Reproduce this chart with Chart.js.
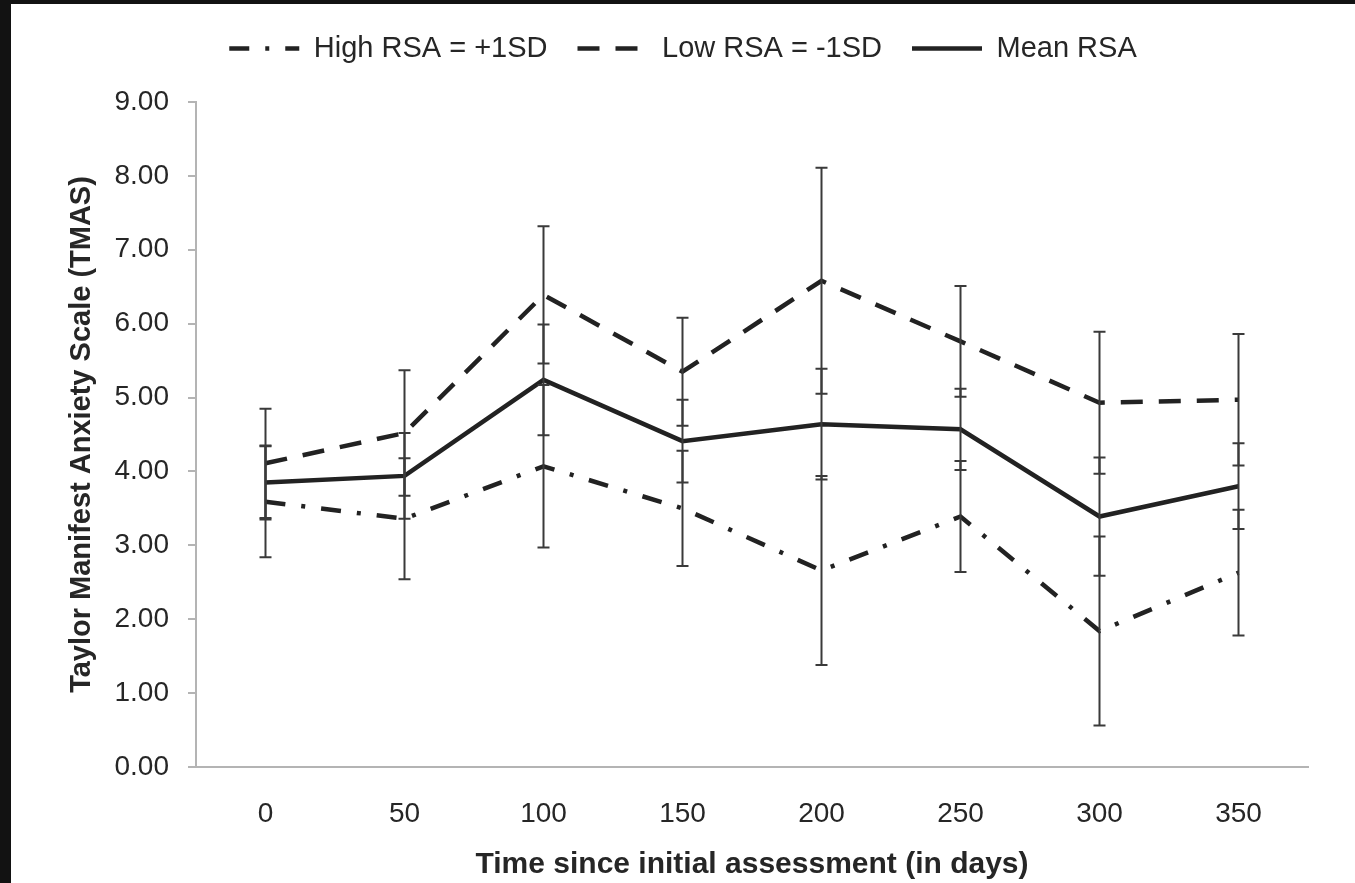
<!DOCTYPE html>
<html>
<head>
<meta charset="utf-8">
<script src="https://cdn.jsdelivr.net/npm/chart.js@4.4.1/dist/chart.umd.min.js"></script>
<style>
    html, body { margin: 0; padding: 0; background: #121212; }
    #wrap { position: absolute; left: 11px; top: 4px; width: 1344px; height: 879px; background: #fff; }
</style>
</head>
<body>
<div id="wrap"><canvas id="tmasChart" width="1344" height="879"></canvas></div>
<script>
// days since first assessment
const days = ['0', '50', '100', '150', '200', '250', '300', '350'];
const yTicks = [0, 1, 2, 3, 4, 5, 6, 7, 8, 9];

// TMAS estimates per RSA group
const highRsa = [3.59, 3.36, 4.07, 3.50, 2.66, 3.39, 1.84, 2.63];
const lowRsa = [4.11, 4.52, 6.39, 5.35, 6.58, 5.76, 4.93, 4.97];
const meanRsa = [3.85, 3.94, 5.24, 4.41, 4.64, 4.57, 3.39, 3.80];

// +/- error for each group
const highErr = [0.75, 0.82, 1.10, 0.78, 1.28, 0.75, 1.28, 0.85];
const lowErr = [0.74, 0.85, 0.93, 0.73, 1.53, 0.75, 0.96, 0.89];
const meanErr = [0.50, 0.58, 0.75, 0.56, 0.75, 0.55, 0.80, 0.58];

const inkColor = '#222222';
const axisColor = '#b4b4b4';
const textColor = '#262626';
const fontFamily = 'Arial, "Liberation Sans", sans-serif';

// vertical error bars with caps, drawn from dataset.errors
const errorBars = {
    id: 'errorBars',
    afterDatasetsDraw(chart) {
        const ctx = chart.ctx;
        const yScale = chart.scales.y;
        ctx.save();
        ctx.strokeStyle = '#3a3a3a';
        ctx.lineWidth = 2;
        ctx.setLineDash([]);
        chart.data.datasets.forEach((ds, i) => {
            const meta = chart.getDatasetMeta(i);
            meta.data.forEach((pt, j) => {
                const v = ds.data[j];
                const e = ds.errors[j];
                const top = yScale.getPixelForValue(v + e);
                const bottom = yScale.getPixelForValue(v - e);
                ctx.beginPath();
                ctx.moveTo(pt.x, top);
                ctx.lineTo(pt.x, bottom);
                ctx.moveTo(pt.x - 6, top);
                ctx.lineTo(pt.x + 6, top);
                ctx.moveTo(pt.x - 6, bottom);
                ctx.lineTo(pt.x + 6, bottom);
                ctx.stroke();
            });
        });
        ctx.restore();
    }
};

function lineSet(label, values, errors, dash) {
    return {
        label: label,
        data: values,
        errors: errors,
        borderColor: inkColor,
        backgroundColor: inkColor,
        borderWidth: 4.5,
        borderDash: dash,
        borderCapStyle: 'butt',
        pointRadius: 0,
        pointHoverRadius: 0,
        tension: 0,
        fill: false
    };
}

// invisible spacer axes to hold the plot area in place
function spacer(position, size) {
    return {
        type: 'linear',
        position: position,
        display: true,
        grid: { display: false },
        border: { display: false },
        ticks: { display: false },
        afterFit: s => {
            if (position === 'top') s.height = size; else s.width = size;
        }
    };
}

const ctx = document.getElementById('tmasChart').getContext('2d');
new Chart(ctx, {
    type: 'line',
    data: {
        labels: days,
        datasets: [
            lineSet('High RSA = +1SD', highRsa, highErr, [20, 16, 4, 16]),
            lineSet('Low RSA = -1SD', lowRsa, lowErr, [22, 16]),
            lineSet('Mean RSA', meanRsa, meanErr, [])
        ]
    },
    options: {
        responsive: false,
        animation: false,
        devicePixelRatio: 1,
        layout: { padding: 0 },
        plugins: {
            legend: {
                position: 'top',
                labels: {
                    usePointStyle: true,
                    pointStyle: 'line',
                    pointStyleWidth: 70,
                    padding: 30,
                    color: textColor,
                    font: { family: fontFamily, size: 29 },
                    // keep each dataset's dash pattern on its legend line
                    generateLabels: chart => Chart.defaults.plugins.legend.labels.generateLabels(chart).map(item => {
                        const ds = chart.data.datasets[item.datasetIndex];
                        item.lineDash = ds.borderDash;
                        item.lineCap = 'butt';
                        return item;
                    })
                }
            },
            tooltip: { enabled: false }
        },
        scales: {
            x: {
                type: 'category',
                offset: true,
                grid: { display: false },
                border: { display: true, color: axisColor, width: 2 },
                ticks: {
                    color: textColor,
                    padding: 22,
                    maxRotation: 0,
                    font: { family: fontFamily, size: 28 }
                },
                title: {
                    display: true,
                    text: 'Time since initial assessment (in days)',
                    color: textColor,
                    padding: { top: 0, bottom: 0 },
                    font: { family: fontFamily, size: 30, weight: 'bold' }
                },
                afterFit: s => { s.height = 116; }
            },
            y: {
                min: 0,
                max: 9,
                afterBuildTicks: s => { s.ticks = yTicks.map(v => ({ value: v })); },
                grid: {
                    drawOnChartArea: false,
                    drawTicks: true,
                    tickLength: 8,
                    color: axisColor,
                    lineWidth: 2
                },
                border: { display: true, color: axisColor, width: 2 },
                ticks: {
                    color: textColor,
                    padding: 19,
                    font: { family: fontFamily, size: 28 },
                    callback: v => Number(v).toFixed(2)
                },
                title: {
                    display: true,
                    text: 'Taylor Manifest Anxiety Scale (TMAS)',
                    color: textColor,
                    padding: { top: 54, bottom: 0 },
                    font: { family: fontFamily, size: 29, weight: 'bold' }
                },
                afterFit: s => { s.width = 185; }
            },
            yRight: spacer('right', 47),
            xTop: spacer('top', 29)
        }
    },
    plugins: [errorBars]
});
</script>
</body>
</html>
